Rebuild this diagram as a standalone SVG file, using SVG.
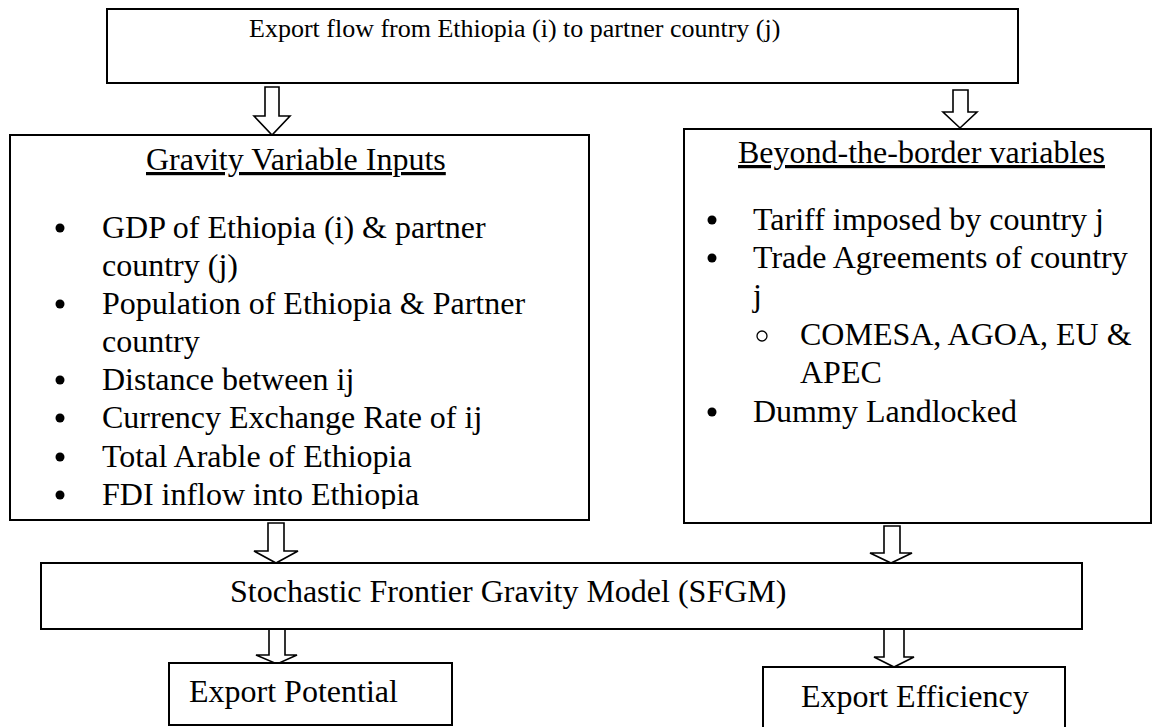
<svg xmlns="http://www.w3.org/2000/svg" width="1154" height="727" viewBox="0 0 1154 727">
<defs>
<style>
.box{fill:#fff;stroke:#000;stroke-width:2}
.arr{fill:#fff;stroke:#000;stroke-width:1.6;stroke-linejoin:miter}
.t{font-family:"Liberation Serif","Times New Roman",serif;font-size:32px;fill:#000}
.title{font-size:26px}
.u{text-decoration:underline}
.dot{fill:#000}
.odot{fill:none;stroke:#000;stroke-width:1.3}
</style>
<clipPath id="clipL"><rect x="10" y="135" width="579" height="374"/></clipPath>
</defs>
<rect width="1154" height="727" fill="#fff"/>
<g id="connectors">
<path class="arr" d="M265,87 H279 V116 H290 L272,135 L254,116 H265 Z"/>
<path class="arr" d="M953,90 H968 V112 H977 L960,128 L943,112 H953 Z"/>
<path class="arr" d="M268,523 H284 V551 H298 L276,563 L254,551 H268 Z"/>
<path class="arr" d="M884,526 H900 V553 H912 L891,563 L870,553 H884 Z"/>
<path class="arr" d="M269,629 H285 V655 H297 L277,664 L256,655 H269 Z"/>
<path class="arr" d="M884,629 H904 V657 H914 L894,667 L874,657 H884 Z"/>
</g>
<g id="node-export-flow">
<rect class="box" x="107" y="9" width="911" height="74"/>
<text class="t title" x="249" y="37">Export flow from Ethiopia (i) to partner country (j)</text>
</g>
<g id="node-gravity">
<rect class="box" x="10" y="135" width="579" height="385"/>
<g clip-path="url(#clipL)">
<text class="t u" x="146" y="170">Gravity Variable Inputs</text>
<circle class="dot" cx="60" cy="228" r="4.5"/>
<text class="t" x="102" y="238">GDP of Ethiopia (i) &amp; partner</text>
<text class="t" x="102" y="276">country (j)</text>
<circle class="dot" cx="60" cy="304" r="4.5"/>
<text class="t" x="102" y="314">Population of Ethiopia &amp; Partner</text>
<text class="t" x="102" y="352">country</text>
<circle class="dot" cx="60" cy="380" r="4.5"/>
<text class="t" x="102" y="390">Distance between ij</text>
<circle class="dot" cx="60" cy="418" r="4.5"/>
<text class="t" x="102" y="428">Currency Exchange Rate of ij</text>
<circle class="dot" cx="60" cy="457" r="4.5"/>
<text class="t" x="102" y="467">Total Arable of Ethiopia</text>
<circle class="dot" cx="60" cy="495" r="4.5"/>
<text class="t" x="102" y="505">FDI inflow into Ethiopia</text>
</g>
</g>
<g id="node-beyond">
<rect class="box" x="684" y="129" width="467" height="394"/>
<text class="t u" x="738" y="163">Beyond-the-border variables</text>
<circle class="dot" cx="712" cy="220" r="4.5"/>
<text class="t" x="753" y="230">Tariff imposed by country j</text>
<circle class="dot" cx="712" cy="258" r="4.5"/>
<text class="t" x="753" y="268">Trade Agreements of country</text>
<text class="t" x="753" y="306">j</text>
<circle class="odot" cx="762" cy="336" r="5"/>
<text class="t" x="800" y="345">COMESA, AGOA, EU &amp;</text>
<text class="t" x="800" y="383">APEC</text>
<circle class="dot" cx="712" cy="412" r="4.5"/>
<text class="t" x="753" y="422">Dummy Landlocked</text>
</g>
<g id="node-sfgm">
<rect class="box" x="41" y="563" width="1041" height="66"/>
<text class="t" x="230" y="602">Stochastic Frontier Gravity Model (SFGM)</text>
</g>
<g id="node-potential">
<rect class="box" x="169" y="663" width="283" height="62"/>
<text class="t" x="189" y="702">Export Potential</text>
</g>
<g id="node-efficiency">
<rect class="box" x="763" y="667" width="302" height="64"/>
<text class="t" x="801" y="707">Export Efficiency</text>
</g>
</svg>
